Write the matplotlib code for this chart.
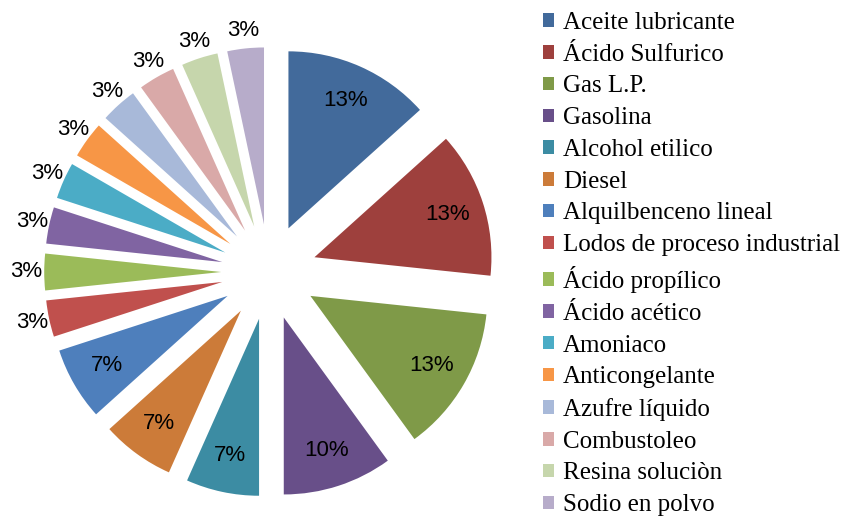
import numpy as np
import matplotlib
matplotlib.use('Agg')
import matplotlib.pyplot as plt

labels = ['Aceite lubricante', 'Ácido Sulfurico', 'Gas L.P.', 'Gasolina',
          'Alcohol etilico', 'Diesel', 'Alquilbenceno lineal',
          'Lodos de proceso industrial', 'Ácido propílico', 'Ácido acético',
          'Amoniaco', 'Anticongelante', 'Azufre líquido', 'Combustoleo',
          'Resina soluciòn', 'Sodio en polvo']
counts = [4, 4, 4, 3, 2, 2, 2, 1, 1, 1, 1, 1, 1, 1, 1, 1]
colors = ['#426A9B', '#9E403D', '#7F9A48', '#684F89', '#3C8CA3', '#CC7B39',
          '#4E7FBC', '#C0504D', '#9BBB59', '#8064A2', '#4BACC6', '#F79646',
          '#A8B9D9', '#D9A9A8', '#C6D6AC', '#B7ACCA']

fig = plt.figure(figsize=(8.46, 5.16), dpi=100)
# square axes, 177 px per data unit, pie centre at (269, 274) px from top-left
ax = fig.add_axes([3.5 / 846, -21.5 / 516, 531 / 846, 531 / 516])
wedges, texts, autotexts = ax.pie(
    counts, colors=colors, startangle=90, counterclock=False,
    explode=[0.27] * len(counts), autopct='%1.0f%%', pctdistance=0.79,
    wedgeprops=dict(linewidth=0),
    textprops=dict(fontsize=16, family='Liberation Sans', color='black'))

# small slices get their label outside the wedge
for w, t, c in zip(wedges, autotexts, counts):
    if c == 1:
        ang = np.deg2rad((w.theta1 + w.theta2) / 2)
        cx, cy = w.center
        t.set_position((cx + 1.10 * w.r * np.cos(ang), cy + 1.10 * w.r * np.sin(ang)))

ax.set_xlim(-1.5, 1.5)
ax.set_ylim(-1.5, 1.5)
ax.axis('off')

fig.legend(wedges, labels, loc='upper left', bbox_to_anchor=(543 / 846, 1 - 12 / 516),
           frameon=False, borderpad=0, borderaxespad=0,
           prop=dict(family='Liberation Serif', size=18),
           handlelength=0.45, handleheight=0.45, handletextpad=0.35,
           labelspacing=0.39)

plt.savefig('out.png', dpi=100)
